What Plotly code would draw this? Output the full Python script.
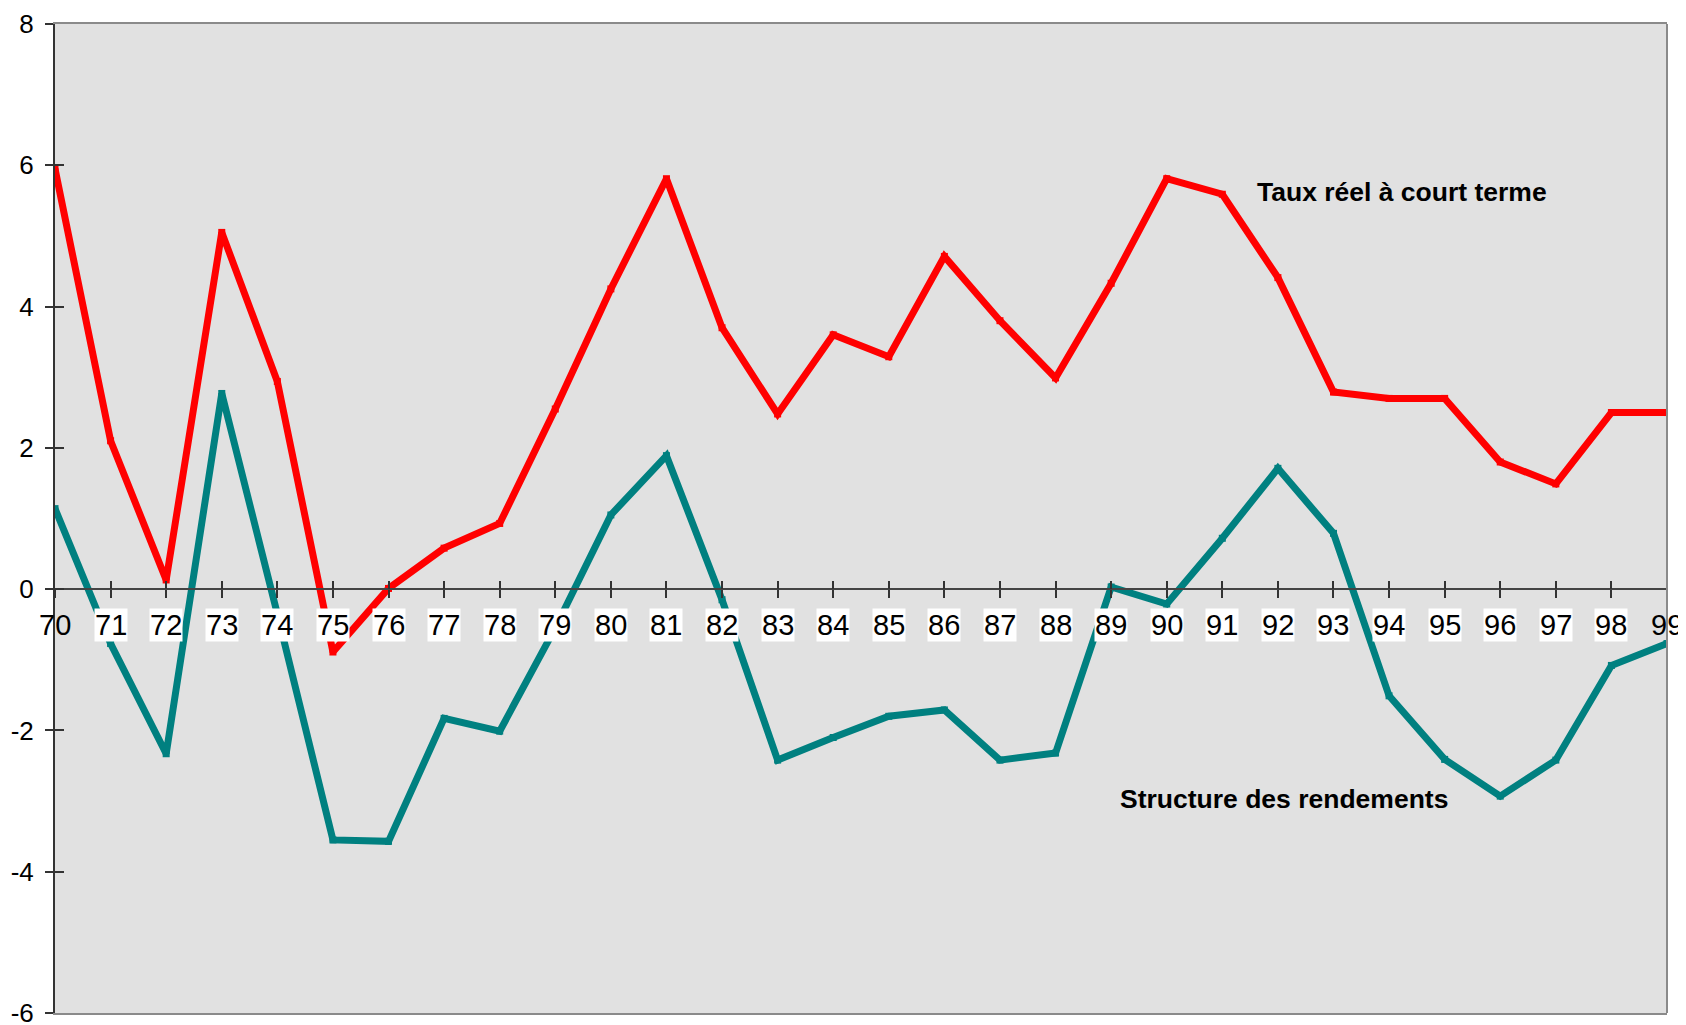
import plotly.graph_objects as go

years = list(range(70, 100))
year_labels = [str(y) for y in years]
taux_reel = [5.95, 2.1, 0.13, 5.05, 2.94, -0.89, 0.01, 0.58, 0.93, 2.55,
             4.25, 5.81, 3.70, 2.48, 3.60, 3.29, 4.71, 3.80, 2.99, 4.33,
             5.81, 5.59, 4.41, 2.79, 2.70, 2.70, 1.80, 1.49, 2.50, 2.50]
structure = [1.14, -0.77, -2.33, 2.77, -0.35, -3.55, -3.57, -1.83, -2.01, -0.55,
             1.05, 1.89, -0.15, -2.42, -2.10, -1.80, -1.71, -2.42, -2.32, 0.03,
             -0.21, 0.72, 1.71, 0.79, -1.51, -2.41, -2.93, -2.42, -1.08, -0.77]
y_ticks = [-6, -4, -2, 0, 2, 4, 6, 8]
y_tick_labels = ["-6", "-4", "-2", "0", "2", "4", "6", "8"]
series_names = ["Taux réel à court terme", "Structure des rendements"]

RED = "#ff0000"
TEAL = "#008080"
FONT = "Arial, Liberation Sans, sans-serif"

fig = go.Figure()
fig.add_trace(go.Scatter(x=years, y=taux_reel, mode="lines+markers",
                         line=dict(color=RED, width=7),
                         marker=dict(color=RED, size=7, symbol="square"),
                         name=series_names[0]))
fig.add_trace(go.Scatter(x=years, y=structure, mode="lines+markers",
                         line=dict(color=TEAL, width=7),
                         marker=dict(color=TEAL, size=7, symbol="square"),
                         name=series_names[1]))
# helper empty traces so overlay axes are created
fig.add_trace(go.Scatter(x=[], y=[], xaxis="x2", yaxis="y", showlegend=False))
fig.add_trace(go.Scatter(x=[], y=[], xaxis="x3", yaxis="y", showlegend=False))
fig.add_trace(go.Scatter(x=[], y=[], xaxis="x", yaxis="y2", showlegend=False))

zero_pos = (0 - y_ticks[0]) / (y_ticks[-1] - y_ticks[0])

axis_common = dict(range=[years[0], years[-1]], tickvals=years, showgrid=False,
                   zeroline=False, showticklabels=False, tickcolor="#333",
                   tickwidth=1.5, ticklen=8)

fig.update_layout(
    width=1686, height=1025,
    margin=dict(l=47, r=27, t=16, b=20, autoexpand=False),
    paper_bgcolor="white", plot_bgcolor="#e1e1e1",
    showlegend=False,
    font=dict(family=FONT, color="black"),
    xaxis=dict(range=[years[0], years[-1]], showgrid=False, zeroline=False,
               showticklabels=False, ticks="", showline=True, linecolor="#8a8a8a",
               linewidth=2, mirror=True),
    xaxis2=dict(overlaying="x", anchor="free", position=zero_pos, ticks="outside",
                showline=True, linecolor="#444", linewidth=1.5, **axis_common),
    xaxis3=dict(overlaying="x", anchor="free", position=zero_pos, ticks="inside",
                showline=False, **axis_common),
    yaxis=dict(range=[y_ticks[0], y_ticks[-1]], tickvals=y_ticks, ticktext=y_tick_labels,
               ticks="outside", ticklen=8, tickcolor="#333", tickwidth=1.5,
               showline=True, linecolor="#333", linewidth=2, showgrid=False,
               zeroline=False, tickfont=dict(size=26, color="black", family=FONT),
               ticklabelstandoff=6),
    yaxis2=dict(overlaying="y", anchor="x", range=[y_ticks[0], y_ticks[-1]],
                tickvals=y_ticks, ticks="inside", ticklen=9, tickcolor="#333",
                tickwidth=1.5, showticklabels=False, showgrid=False,
                zeroline=False, showline=False),
)

# right border
fig.add_shape(type="line", xref="paper", yref="paper", x0=1, x1=1, y0=0, y1=1,
              line=dict(color="#8a8a8a", width=2), layer="above")

# x tick labels with white boxes
for i, (yr, lab) in enumerate(zip(years, year_labels)):
    edge = i == 0 or i == len(years) - 1
    fig.add_annotation(x=yr, y=0, xref="x", yref="y", text=lab, showarrow=False,
                       yshift=-36, yanchor="middle", xanchor="center",
                       font=dict(size=29, color="black", family=FONT),
                       bgcolor=None if edge else "white", borderpad=0)

# series labels
fig.add_annotation(x=91.58, y=5.62, xref="x", yref="y",
                   text="<b>" + series_names[0] + "</b>", showarrow=False,
                   xanchor="left", yanchor="middle",
                   font=dict(size=26.5, color="black", family=FONT))
fig.add_annotation(x=89.12, y=-2.97, xref="x", yref="y",
                   text="<b>" + series_names[1] + "</b>", showarrow=False,
                   xanchor="left", yanchor="middle",
                   font=dict(size=26.5, color="black", family=FONT))

fig.write_html("out.html")
